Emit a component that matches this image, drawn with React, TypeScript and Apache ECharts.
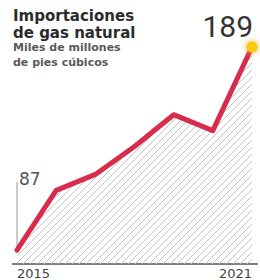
import React, { useEffect, useRef } from "react";
import * as echarts from "echarts";

const years = ["2015", "2016", "2017", "2018", "2019", "2020", "2021"];
const imports = [87, 117, 125, 139, 155, 147, 189];
const titleLines = ["Importaciones", "de gas natural"];
const subtitleLines = ["Miles de millones", "de pies cúbicos"];
const yMin = 80;

const hatch =
  "data:image/svg+xml;utf8," +
  encodeURIComponent(
    "<svg xmlns='http://www.w3.org/2000/svg' width='7' height='7'><path d='M-1,8 L8,-1 M-1,1 L1,-1 M6,8 L8,6' stroke='#c2c2c2' stroke-width='1'/></svg>"
  );

export default function App() {
  const ref = useRef<HTMLDivElement>(null);
  useEffect(() => {
    if (!ref.current) return;
    const chart = echarts.init(ref.current, null, { renderer: "svg" });
    const last = imports.length - 1;
    chart.setOption({
      animation: false,
      grid: { left: 17, right: 8, top: 47, bottom: 16, containLabel: false, outerBoundsMode: "none" },
      xAxis: {
        type: "category",
        data: years,
        boundaryGap: false,
        axisLine: { show: false },
        axisTick: { show: false },
        axisLabel: {
          interval: (i: number) => i === 0 || i === last,
          alignMinLabel: "left",
          alignMaxLabel: "right",
          fontFamily: "DejaVu Sans",
          fontSize: 13,
          lineHeight: 13,
          color: "#444",
          margin: 3,
        },
      },
      yAxis: {
        type: "value",
        min: yMin,
        max: 189,
        show: false,
        splitLine: { show: false },
      },
      series: [
        {
          type: "line",
          data: imports.map((v, i) =>
            i === last
              ? {
                  value: v,
                  symbol: "circle",
                  symbolSize: 11,
                  itemStyle: { color: "#f9c80e", shadowBlur: 6, shadowColor: "#f5a623" },
                }
              : { value: v, symbol: "none" }
          ),
          showSymbol: true,
          lineStyle: { color: "#d92b4b", width: 5, join: "round", cap: "round" },
          areaStyle: {
            color: { image: hatch, repeat: "repeat", imageWidth: 7, imageHeight: 7 },
            opacity: 1,
          },
        },
      ],
    });
    const p0 = chart.convertToPixel({ gridIndex: 0 }, [0, imports[0]]) as number[];
    const pN = chart.convertToPixel({ gridIndex: 0 }, [last, imports[last]]) as number[];
    const base = chart.convertToPixel({ gridIndex: 0 }, [0, yMin]) as number[];
    chart.setOption({
      graphic: [
        ...titleLines.map((t, i) => ({
          type: "text",
          x: 13,
          y: 8 + i * 17,
          style: {
            text: t,
            font: "bold 15px 'DejaVu Sans'",
            fill: "#2b2b2b",
            verticalAlign: "top",
          },
        })),
        ...subtitleLines.map((t, i) => ({
          type: "text",
          x: 13,
          y: 42 + i * 15,
          style: {
            text: t,
            font: "bold 11px 'DejaVu Sans'",
            fill: "#5a5a5a",
            verticalAlign: "top",
          },
        })),
        {
          type: "line",
          shape: { x1: base[0] - 5, y1: base[1], x2: pN[0] + 6, y2: base[1] },
          style: { stroke: "#555", lineWidth: 1.5 },
        },
        {
          type: "line",
          shape: { x1: p0[0], y1: p0[1] - 3, x2: p0[0], y2: p0[1] - 68 },
          style: { stroke: "#999", lineWidth: 1 },
        },
        {
          type: "text",
          x: p0[0] + 2,
          y: p0[1] - 80,
          style: {
            text: String(imports[0]),
            font: "17px 'DejaVu Sans'",
            fill: "#555",
            verticalAlign: "top",
          },
        },
        {
          type: "text",
          x: pN[0] + 1,
          y: pN[1] - 6,
          style: {
            text: String(imports[last]),
            font: "30px 'Liberation Sans Narrow', Roboto",
            fill: "#333",
            align: "right",
            verticalAlign: "bottom",
          },
        },
      ],
    });
    return () => chart.dispose();
  }, []);
  return <div ref={ref} style={{ width: 260, height: 280, position: "absolute", left: 0, top: 0, background: "#fff" }} />;
}
